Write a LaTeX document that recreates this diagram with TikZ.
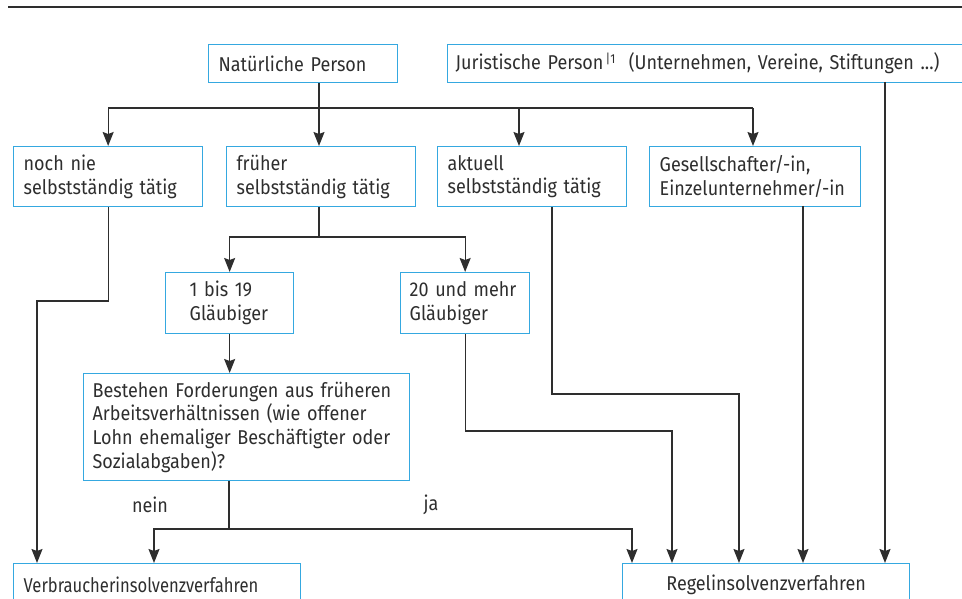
\documentclass[tikz,border=0pt]{standalone}
\usepackage{fontspec}
\setmainfont{Fira Sans}[FakeStretch=0.9]
\newfontfamily\narrowfont{Fira Sans}[FakeStretch=0.83]
\usetikzlibrary{arrows.meta,calc}
\definecolor{boxblue}{HTML}{35A8E0}
\definecolor{ink}{HTML}{2E2E2E}
\tikzset{
  box/.style={draw=boxblue, line width=1.3pt, anchor=north west, inner ysep=0pt,
    inner xsep=10pt, align=left, text=ink, font=\fontsize{20}{23.7}\selectfont},
  conn/.style={draw=ink, line width=1.2pt},
  arr/.style={conn, -{Stealth[length=14pt,width=11pt,inset=2pt]}},
  lbl/.style={text=ink, font=\fontsize{20}{23.7}\selectfont, inner sep=0pt}
}
\begin{document}
\begin{tikzpicture}[x=1pt,y=-1pt]
\useasboundingbox (0,0) rectangle (962,599);
\clip (0,0) rectangle (962,599);
\draw[ink, line width=1.5pt] (8,7) -- (962,7);
% nodes
\node[box, text width=169pt, minimum height=38pt] (nat) at (208,44) {Natürliche Person};
\node[box, text width=540pt, minimum height=38pt, inner xsep=8pt] (jur) at (447,44)
  {Juristische Person\raisebox{6pt}{\fontsize{13}{13}\selectfont\,|1}\ \ (Unternehmen, Vereine, Stiftungen ...)};
\node[box, text width=169pt, minimum height=60pt] (b1) at (13,146) {noch nie\\selbstständig tätig};
\node[box, text width=169pt, minimum height=60pt] (b2) at (226,146) {früher\\selbstständig tätig};
\node[box, text width=169pt, minimum height=60pt] (b3) at (437,146) {aktuell\\selbstständig tätig};
\node[box, text width=191pt, minimum height=60pt] (b4) at (649,146) {Gesellschafter/-in,\\Einzelunternehmer/-in};
\node[box, text width=80pt, inner xsep=24pt, minimum height=61pt] (g1) at (165,272) {1 bis 19\\Gläubiger};
\node[box, text width=111pt, inner xsep=9pt, minimum height=61pt] (g2) at (400,272) {20 und mehr\\Gläubiger};
\node[box, text width=308pt, inner xsep=9pt, minimum height=107pt] (q) at (83,373)
  {Bestehen Forderungen aus früheren\\Arbeitsverhältnissen (wie offener\\Lohn ehemaliger Beschäftigter oder\\Sozialabgaben)?};
\node[box, text width=267pt, minimum height=42pt] (V) at (13,563) {\narrowfont Verbraucherinsolvenzverfahren};
\node[box, text width=267pt, minimum height=42pt, align=center] (R) at (622,563) {Regelinsolvenzverfahren};
\node[lbl] (nein) at (150,505) {nein};
\node[lbl] (ja) at (431,505) {ja};
% coordinates
\coordinate (j1) at (319,108);
\coordinate (t3) at (519,108);
\coordinate (t4) at (753,108);
\coordinate (c1) at (37,301);
\coordinate (j2) at (319,237);
\coordinate (j3) at (229,529);
\coordinate (v2) at (154,529);
\coordinate (r1) at (632,529);
\coordinate (c2) at (672,431);
\coordinate (c3) at (552,394);
\coordinate (c3b) at (739,394);
\coordinate (c4) at (803,206);
\coordinate (c5) at (885,82);
% connectors
\draw[conn] (j1 |- nat.south) -- (j1);
\draw[conn] (b1.north |- j1) -- (t4);
\draw[arr] (b1.north |- j1) -- (b1.north);
\draw[arr] (j1) -- (j1 |- b2.north);
\draw[arr] (t3) -- (t3 |- b3.north);
\draw[arr] (t4) -- (t4 |- b4.north);
\draw[arr] (b1.south) |- (c1) -- (c1 |- V.north);
\draw[conn] (j2 |- b2.south) -- (j2);
\draw[arr] (j2) -| (g1.north);
\draw[arr] (j2) -| (g2.north);
\draw[arr] (g1.south) -- (g1.south |- q.north);
\draw[conn] (j3 |- q.south) -- (j3);
\draw[arr] (j3) -- (v2) -- (v2 |- V.north);
\draw[arr] (j3) -- (r1) -- (r1 |- R.north);
\draw[arr] (g2.south) |- (c2) -- (c2 |- R.north);
\draw[arr] (c3 |- b3.south) -- (c3) -- (c3b) -- (c3b |- R.north);
\draw[arr] (c4) -- (c4 |- R.north);
\draw[arr] (c5) -- (c5 |- R.north);
\end{tikzpicture}
\end{document}
